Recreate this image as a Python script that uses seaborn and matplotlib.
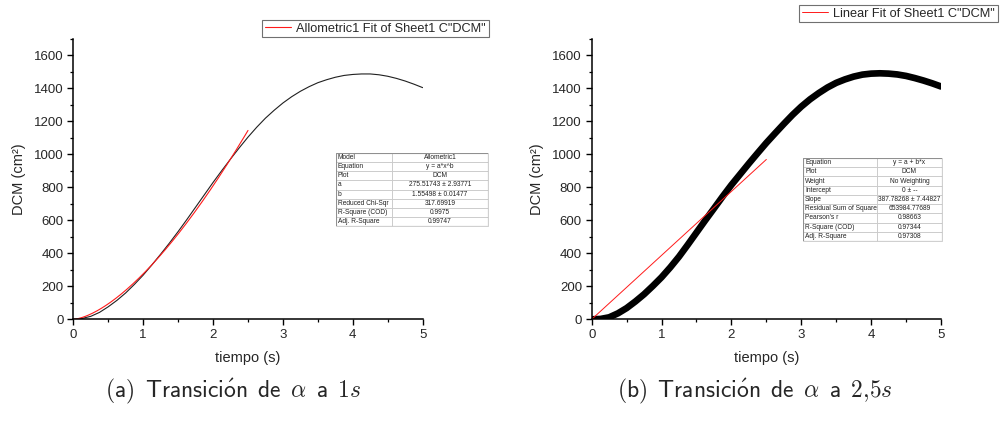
import numpy as np
import pandas as pd
import matplotlib
matplotlib.use("Agg")
import matplotlib.pyplot as plt
from matplotlib.ticker import MultipleLocator
import seaborn as sns

# ---- data -------------------------------------------------------------
tiempo = [0.0, 0.125, 0.25, 0.375, 0.5, 0.625, 0.75, 0.875,
          1.0, 1.125, 1.25, 1.375, 1.5, 1.625, 1.75, 1.875,
          2.0, 2.125, 2.25, 2.375, 2.5, 2.625, 2.75, 2.875,
          3.0, 3.125, 3.25, 3.375, 3.5, 3.625, 3.75, 3.875,
          4.0, 4.125, 4.25, 4.375, 4.5, 4.625, 4.75, 4.875, 5.0]

# DCM for the transition at 1 s
dcm_1s = [0, 5, 18, 42, 76, 115, 160, 212,
          268, 330, 395, 462, 532, 605, 680, 755,
          830, 902, 972, 1040, 1105, 1165, 1220, 1268,
          1312, 1350, 1383, 1411, 1435, 1453, 1468, 1479,
          1485, 1488, 1488, 1483, 1474, 1461, 1445, 1426, 1405]

# DCM for the transition at 2.5 s
dcm_25s = [0, 2, 12, 36, 68, 108, 152, 202,
           255, 315, 380, 452, 526, 600, 672, 745,
           815, 880, 945, 1008, 1070, 1128, 1185, 1240,
           1290, 1334, 1372, 1406, 1434, 1455, 1472, 1484,
           1490, 1492, 1490, 1485, 1476, 1463, 1448, 1431, 1412]

# fit parameters
allom_a = 275.51743
allom_b = 1.55498
lin_slope = 387.78268
fit_end = 2.5

table_a_keys = ["Model", "Equation", "Plot", "a", "b", "Reduced Chi-Sqr",
                "R-Square (COD)", "Adj. R-Square"]
table_a_vals = ["Allometric1", "y = a*x^b", "DCM", "275.51743 \u00b1 2.93771",
                "1.55498 \u00b1 0.01477", "317.69919", "0.9975", "0.99747"]

table_b_keys = ["Equation", "Plot", "Weight", "Intercept", "Slope",
                "Residual Sum of Squares", "Pearson's r", "R-Square (COD)",
                "Adj. R-Square"]
table_b_vals = ["y = a + b*x", "DCM", "No Weighting", "0 \u00b1 --",
                "387.78268 \u00b1 7.44827", "653984.77689", "0.98663",
                "0.97344", "0.97308"]

legend_a = "Allometric1 Fit of Sheet1 C\"DCM\""
legend_b = "Linear Fit of Sheet1 C\"DCM\""
caption_a = (r"$\mathsf{(a)}\ \,\mathsf{Transici\acute{o}n}\ \,\mathsf{de}"
             r"\ \,\alpha\ \,\mathsf{a}\ \,1s$")
caption_b = (r"$\mathsf{(b)}\ \,\mathsf{Transici\acute{o}n}\ \,\mathsf{de}"
             r"\ \,\alpha\ \,\mathsf{a}\ \,2{,}5s$")

# ---- style ------------------------------------------------------------
sns.set_style("ticks")
plt.rcParams["font.family"] = ["Liberation Sans", "DejaVu Sans"]
plt.rcParams["mathtext.fontset"] = "cm"

W, H = 1003, 424
fig = plt.figure(figsize=(W / 100, H / 100), dpi=100)


def px_axes(x0, y0, x1, y1):
    return fig.add_axes([x0 / W, 1 - y1 / H, (x1 - x0) / W, (y1 - y0) / H])


def style_axes(ax):
    ax.set_xlim(0, 5)
    ax.set_ylim(0, 1700)
    ax.xaxis.set_major_locator(MultipleLocator(1))
    ax.xaxis.set_minor_locator(MultipleLocator(0.5))
    ax.yaxis.set_minor_locator(MultipleLocator(100))
    ax.set_yticks([0, 200, 400, 600, 800, 1000, 1200, 1400, 1600])
    for s in ("top", "right"):
        ax.spines[s].set_visible(False)
    for s in ("left", "bottom"):
        ax.spines[s].set_linewidth(1.1)
        ax.spines[s].set_color("black")
    ax.tick_params(which="major", direction="out", length=4, width=1.0,
                   labelsize=9.5, pad=3, color="black")
    ax.tick_params(which="minor", direction="out", length=2.5, width=0.9,
                   color="black")
    ax.set_xlabel("tiempo (s)", fontsize=10.5, labelpad=7)
    ax.set_ylabel("DCM (cm\u00b2)", fontsize=10.5, labelpad=6)
    ax.patch.set_alpha(0)


def add_legend(ax, x_px, y_px):
    leg = ax.legend(loc="upper left", bbox_to_anchor=(x_px / W, 1 - y_px / H),
                    bbox_transform=fig.transFigure, borderaxespad=0,
                    fontsize=9.2, frameon=True, fancybox=False,
                    edgecolor="#707070", framealpha=1, handlelength=2.1,
                    handletextpad=0.4, borderpad=0.2)
    leg.get_frame().set_linewidth(0.8)
    return leg


def draw_table(rect, keys, vals, split):
    tax = px_axes(*rect)
    tax.axis("off")
    tb = tax.table(cellText=[[k, v] for k, v in zip(keys, vals)],
                   colWidths=[split, 1 - split], bbox=[0, 0, 1, 1],
                   cellLoc="center")
    tb.auto_set_font_size(False)
    for (r, c), cell in tb.get_celld().items():
        cell.set_edgecolor("#c8c8c8")
        cell.set_linewidth(0.6)
        cell.set_facecolor("white")
        cell.get_text().set_fontsize(4.8)
        cell.get_text().set_color("#222222")
        if c == 0:
            cell.get_text().set_horizontalalignment("left")
            cell.PAD = 0.03
    # darker outer frame
    tax.add_patch(plt.Rectangle((0, 0), 1, 1, transform=tax.transAxes,
                                fill=False, edgecolor="#909090", lw=0.8,
                                zorder=5))


# ---- panel (a) ---------------------------------------------------------
ax1 = px_axes(73.3, 39, 422.7, 319.3)
df_a = pd.DataFrame({"tiempo": tiempo, "DCM": dcm_1s})
sns.lineplot(data=df_a, x="tiempo", y="DCM", ax=ax1, color="#202020",
             lw=0.8, estimator=None, sort=False)
xf = np.linspace(0, fit_end, 200)
fit_a = pd.DataFrame({"tiempo": xf, "fit": allom_a * xf ** allom_b})
sns.lineplot(data=fit_a, x="tiempo", y="fit", ax=ax1, color="#ff1a1a",
             lw=0.8, estimator=None, sort=False, label=legend_a)
style_axes(ax1)
add_legend(ax1, 262, 20)

# ---- panel (b) ---------------------------------------------------------
ax2 = px_axes(591.7, 39, 941, 319.3)
df_b = pd.DataFrame({"tiempo": tiempo, "DCM": dcm_25s})
sns.lineplot(data=df_b, x="tiempo", y="DCM", ax=ax2, color="black",
             lw=4.8, estimator=None, sort=False, solid_joinstyle="round")
fit_b = pd.DataFrame({"tiempo": xf, "fit": lin_slope * xf})
sns.lineplot(data=fit_b, x="tiempo", y="fit", ax=ax2, color="#ff1a1a",
             lw=0.7, estimator=None, sort=False, label=legend_b)
style_axes(ax2)
add_legend(ax2, 799, 5)

# ---- fit result tables ---------------------------------------------------
draw_table((336, 153, 488, 226), table_a_keys, table_a_vals, 0.37)
draw_table((803, 158, 942, 241), table_b_keys, table_b_vals, 0.53)

# ---- captions -------------------------------------------------------------
for xc, txt in ((233, caption_a), (755, caption_b)):
    fig.text(xc / W, 1 - 391 / H, txt, ha="center", va="center",
             fontsize=17, math_fontfamily="cm")

fig.savefig("out.png", dpi=100)
